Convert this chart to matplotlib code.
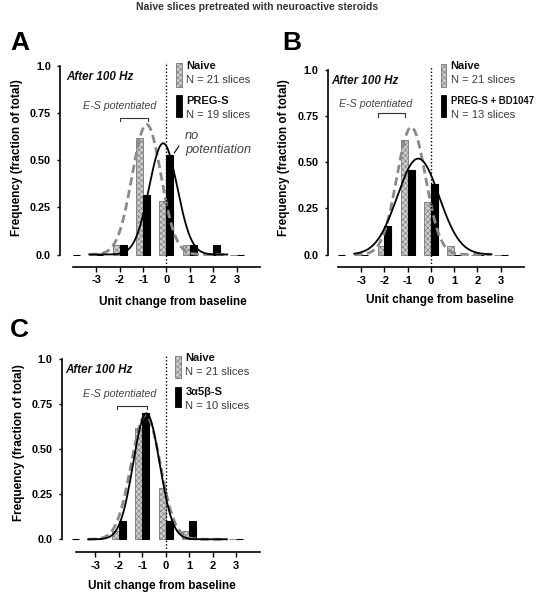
import matplotlib
matplotlib.use('Agg')
import matplotlib.pyplot as plt
import matplotlib.transforms as mtransforms
from matplotlib.patches import Rectangle
import numpy as np

plt.rcParams['font.family'] = ['Liberation Sans', 'DejaVu Sans']
plt.rcParams['hatch.linewidth'] = 0.4

# bins (unit change from baseline)
bins = [-4, -3, -2, -1, 0, 1, 2, 3]

# fraction of slices per bin
naive = [0, 0, 0.048, 0.62, 0.286, 0.048, 0, 0]
preg_s = [0, 0, 0.053, 0.316, 0.526, 0.053, 0.053, 0]
preg_bd = [0, 0, 0.154, 0.46, 0.385, 0, 0, 0]
steroid_3a5b = [0, 0, 0.1, 0.7, 0.1, 0.1, 0, 0]

# gaussian fits: amplitude, mean, sd
fit_naive = (0.69, -0.85, 0.62)
fit_preg_s = (0.59, -0.14, 0.60)
fit_preg_bd = (0.52, -0.55, 0.90)
fit_3a5b = (0.70, -0.82, 0.56)
fit_range = (-3.3, 2.6)

yticks = [0, 0.25, 0.5, 0.75, 1.0]
ytick_labels = ['0.0', '0.25', '0.50', '0.75', '1.0']
xticks = [-3, -2, -1, 0, 1, 2, 3]

NAIVE_FACE = '#cdcdcd'
NAIVE_EDGE = '#767676'
TXT_GRAY = '#3a3a3a'


def gauss_curve(fit):
    a, m, s = fit
    x = np.linspace(fit_range[0], fit_range[1], 300)
    return x, a * np.exp(-0.5 * ((x - m) / s) ** 2)


def legend_block(ax, top, x_icon, x_text, label, n_text, label_size):
    # naive entry
    ax.add_patch(Rectangle((x_icon, top - 0.125), 0.03, 0.125, transform=ax.transAxes,
                           facecolor=NAIVE_FACE, edgecolor=NAIVE_EDGE, hatch='xxxxxx',
                           lw=0.6, clip_on=False))
    ax.text(x_text, top - 0.015, 'Naive', transform=ax.transAxes, fontsize=8,
            fontweight='bold', va='center', color='#111111')
    ax.text(x_text, top - 0.09, 'N = 21 slices', transform=ax.transAxes, fontsize=8,
            va='center', color=TXT_GRAY)
    # treatment entry
    ax.add_patch(Rectangle((x_icon, top - 0.285), 0.03, 0.115, transform=ax.transAxes,
                           facecolor='black', edgecolor='black', lw=0.6, clip_on=False))
    ax.text(x_text, top - 0.20, label, transform=ax.transAxes, fontsize=label_size,
            fontweight='bold', va='center', color='#111111')
    ax.text(x_text, top - 0.275, n_text, transform=ax.transAxes, fontsize=8,
            va='center', color=TXT_GRAY)


def panel(rect, letter, letter_xy, treat, fit_treat, label, n_text, offsets,
          es_pos, bracket, legend_top, xlab_pos, ylab_pos, xbounds=(-4, 4), label_size=8):
    ax = fig.add_axes(rect)
    b = np.array(bins)
    w = 0.3
    ax.bar(b - w / 2, naive, width=w, facecolor=NAIVE_FACE, edgecolor=NAIVE_EDGE,
           hatch='xxxxxx', lw=0.6, zorder=2)
    ax.bar(b + w / 2, treat, width=w, facecolor='black', edgecolor='black', lw=0.8, zorder=2)

    x, y = gauss_curve(fit_naive)
    ax.plot(x, y, color='#8a8a8a', lw=2.0, dashes=(3, 1.6), zorder=3)
    x, y = gauss_curve(fit_treat)
    ax.plot(x, y, color='black', lw=1.3, zorder=4)

    blend = mtransforms.blended_transform_factory(ax.transData, ax.transAxes)
    ax.plot([0, 0], [-offsets[1] * 1.39 / (rect[3] * 600), 1.02], transform=blend,
            color='black', lw=1.0, ls=(0, (1, 1.5)), clip_on=False, zorder=5)

    ax.set_xlim(-4, 4)
    ax.set_ylim(-0.008, 1.0)
    for s in ['top', 'right']:
        ax.spines[s].set_visible(False)
    ax.spines['left'].set_position(('outward', offsets[0]))
    ax.spines['bottom'].set_position(('outward', offsets[1]))
    ax.spines['left'].set_bounds(0, 1.0)
    ax.spines['bottom'].set_bounds(*xbounds)
    ax.spines['left'].set_linewidth(1.2)
    ax.spines['bottom'].set_linewidth(1.2)

    ax.set_yticks(yticks)
    ax.set_yticklabels(ytick_labels)
    ax.set_xticks(xticks)
    ax.set_xticklabels([str(t) for t in xticks])
    ax.tick_params(axis='y', length=2.5, width=1.0, pad=4, labelsize=7.8)
    ax.tick_params(axis='x', length=3.5, width=1.0, pad=2.5, labelsize=8)
    for t in ax.get_xticklabels() + ax.get_yticklabels():
        t.set_fontweight('bold')

    ax.set_xlabel('Unit change from baseline', fontsize=8.5, fontweight='bold')
    ax.xaxis.set_label_coords(*xlab_pos)
    ax.xaxis.label.set_va('center')
    ax.set_ylabel('Frequency (fraction of total)', fontsize=8.5, fontweight='bold')
    ax.yaxis.set_label_coords(*ylab_pos)
    ax.yaxis.label.set_va('center')

    ax.text(-0.035, 0.94, 'After 100 Hz', transform=ax.transAxes, fontsize=8.4,
            fontweight='bold', style='italic', va='center', color='#111111')
    ax.text(es_pos[0], es_pos[1], 'E-S potentiated', fontsize=7.7, style='italic',
            ha='center', va='center', color='#444444')
    bx0, bx1, by = bracket
    ax.plot([bx0, bx0, bx1, bx1], [by - 0.02, by, by, by - 0.02], color='#333333', lw=0.8)

    legend_block(ax, legend_top, 0.552, 0.605, label, n_text, label_size)
    fig.text(letter_xy[0], letter_xy[1], letter, fontsize=19, fontweight='bold',
             ha='left', va='center')
    return ax


fig = plt.figure(figsize=(5.55, 6.0), dpi=100)
fig.text(0.463, 0.988, 'Naive slices pretreated with neuroactive steroids', fontsize=7.5,
         fontweight='bold', ha='center', va='center', color='#333333')

ax_a = panel([0.1315, 0.5733, 0.3369, 0.3167], 'A', (0.018, 0.928), preg_s, fit_preg_s,
             'PREG-S', 'N = 19 slices', (9.4, 7.9), (-2.0, 0.79), (-2.0, -0.8, 0.726),
             1.016, (0.535, -0.242), (-0.30, 0.52))
ax_a.text(0.8, 0.628, 'no', fontsize=9.2, style='italic', va='center', color='#444444')
ax_a.text(0.8, 0.553, 'potentiation', fontsize=9.2, style='italic', va='center', color='#444444')
ax_a.plot([0.34, 0.53], [0.54, 0.575], color='black', lw=0.8)

panel([0.609, 0.5733, 0.3351, 0.31], 'B', (0.508, 0.928), preg_bd, fit_preg_bd,
      'PREG-S + BD1047', 'N = 13 slices', (7.4, 8.1), (-2.37, 0.817), (-2.28, -1.12, 0.767),
      1.035, (0.548, -0.237), (-0.29, 0.53), label_size=6.9)

panel([0.1292, 0.0988, 0.3387, 0.3023], 'C', (0.018, 0.45), steroid_3a5b, fit_3a5b,
      '3α5β-S', 'N = 10 slices', (7.2, 8.4), (-1.94, 0.807), (-2.06, -0.78, 0.742),
      1.02, (0.48, -0.25), (-0.28, 0.54), xbounds=(-3.8, 4))

fig.savefig('out.png', dpi=100)
